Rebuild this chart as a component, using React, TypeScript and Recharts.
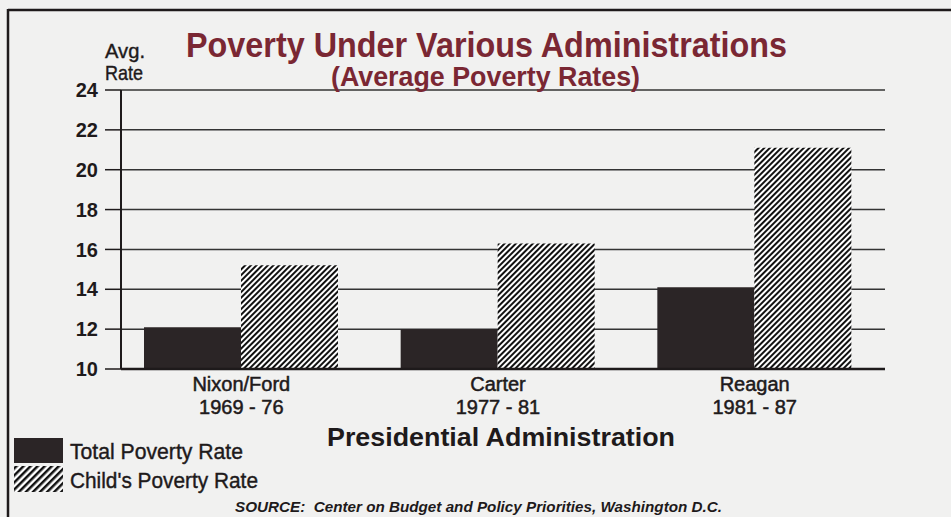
import React from "react";
import { BarChart, Bar, XAxis, YAxis, CartesianGrid } from "recharts";

const administrations = ["Nixon/Ford", "Carter", "Reagan"];
const yearRanges = ["1969 - 76", "1977 - 81", "1981 - 87"];
const totalPovertyRate = [12.1, 12.0, 14.1];
const childPovertyRate = [15.2, 16.3, 21.1];
const yTicks = [10, 12, 14, 16, 18, 20, 22, 24];

const data = administrations.map((name, i) => ({
  name,
  years: yearRanges[i],
  total: totalPovertyRate[i],
  child: childPovertyRate[i],
}));

const FONT = "'Liberation Sans', Arial, Helvetica, sans-serif";
const BG = "#f1f1f0";
const INK = "#1e1a1b";
const BAR = "#2b2526";
const TITLE = "#7a2733";

const XTick = (props: any) => {
  const { x, payload, index } = props;
  const years = yearRanges[index] ?? "";
  return (
    <g>
      <text x={x} y={391} textAnchor="middle" fontFamily={FONT} fontSize={20} fill={INK} stroke={INK} strokeWidth={0.5}>
        {payload.value}
      </text>
      <text x={x} y={414} textAnchor="middle" fontFamily={FONT} fontSize={20} fill={INK} stroke={INK} strokeWidth={0.5}>
        {years}
      </text>
    </g>
  );
};

export default function App() {
  return (
    <div style={{ position: "absolute", left: 0, top: 0, width: 951, height: 517, background: BG, overflow: "hidden" }}>
      <svg width={0} height={0} style={{ position: "absolute" }}>
        <defs>
          <pattern id="hatch" patternUnits="userSpaceOnUse" width={4} height={4} patternTransform="rotate(45)">
            <rect x={0} y={0} width={4} height={4} fill="#ffffff" />
            <rect x={0} y={0} width={2} height={4} fill="#111" />
          </pattern>
          <pattern id="hatchLegend" patternUnits="userSpaceOnUse" width={5} height={5} patternTransform="rotate(45)">
            <rect x={0} y={0} width={5} height={5} fill="#ffffff" />
            <rect x={0} y={0} width={2.5} height={5} fill="#111" />
          </pattern>
        </defs>
      </svg>
      <div style={{ position: "absolute", left: 0, top: 0 }}>
        <BarChart
          width={951}
          height={517}
          data={data}
          margin={{ top: 90, right: 66, bottom: 88, left: 61 }}
          barGap={0}
        >
          <CartesianGrid vertical={false} stroke="#333" strokeWidth={1.5} />
          <XAxis
            dataKey="name"
            height={60}
            padding={{ left: -8, right: 2 }}
            tickLine={false}
            axisLine={{ stroke: INK, strokeWidth: 2.5 }}
            tick={<XTick />}
            interval={0}
          />
          <YAxis
            width={60}
            domain={[10, 24]}
            ticks={yTicks}
            interval={0}
            tickSize={16}
            tickMargin={7}
            axisLine={{ stroke: INK, strokeWidth: 2 }}
            tickLine={{ stroke: INK, strokeWidth: 1.5 }}
            tick={{ fontSize: 20, fill: INK, fontWeight: "bold", fontFamily: FONT }}
            allowDataOverflow
          />
          <Bar dataKey="total" fill={BAR} barSize={97} isAnimationActive={false} />
          <Bar dataKey="child" fill="url(#hatch)" barSize={97} isAnimationActive={false} />
        </BarChart>
      </div>
      <svg width={951} height={517} style={{ position: "absolute", left: 0, top: 0, pointerEvents: "none" }}>
        <line x1={8} y1={10} x2={951} y2={10} stroke={INK} strokeWidth={2.5} />
        <line x1={8} y1={9} x2={8} y2={517} stroke={INK} strokeWidth={2.5} />
        <text x={186} y={57} textLength={601} lengthAdjust="spacingAndGlyphs" fontFamily={FONT} fontWeight="bold" fontSize={35} fill={TITLE}>
          Poverty Under Various Administrations
        </text>
        <text x={331} y={86} textLength={309} lengthAdjust="spacingAndGlyphs" fontFamily={FONT} fontWeight="bold" fontSize={27} fill={TITLE}>
          (Average Poverty Rates)
        </text>
        <text x={105} y={58} textLength={40} lengthAdjust="spacingAndGlyphs" fontFamily={FONT} fontSize={21} fill={INK} stroke={INK} strokeWidth={0.4}>
          Avg.
        </text>
        <text x={105} y={80} textLength={38} lengthAdjust="spacingAndGlyphs" fontFamily={FONT} fontSize={21} fill={INK} stroke={INK} strokeWidth={0.4}>
          Rate
        </text>
        <text x={327} y={446} textLength={348} lengthAdjust="spacingAndGlyphs" fontFamily={FONT} fontWeight="bold" fontSize={26} fill={INK}>
          Presidential Administration
        </text>
        <rect x={14} y={438} width={49} height={25} fill={BAR} />
        <rect x={14} y={466} width={49} height={26} fill="url(#hatchLegend)" />
        <text x={70} y={459} textLength={173} lengthAdjust="spacingAndGlyphs" fontFamily={FONT} fontSize={22} fill={INK} stroke={INK} strokeWidth={0.4}>
          Total Poverty Rate
        </text>
        <text x={70} y={488} textLength={188} lengthAdjust="spacingAndGlyphs" fontFamily={FONT} fontSize={22} fill={INK} stroke={INK} strokeWidth={0.4}>
          Child's Poverty Rate
        </text>
        <text x={235} y={512} textLength={487} lengthAdjust="spacingAndGlyphs" fontFamily={FONT} fontWeight="bold" fontStyle="italic" fontSize={15} fill={INK} style={{ whiteSpace: "pre" }}>
          {"SOURCE:  Center on Budget and Policy Priorities, Washington D.C."}
        </text>
      </svg>
    </div>
  );
}
